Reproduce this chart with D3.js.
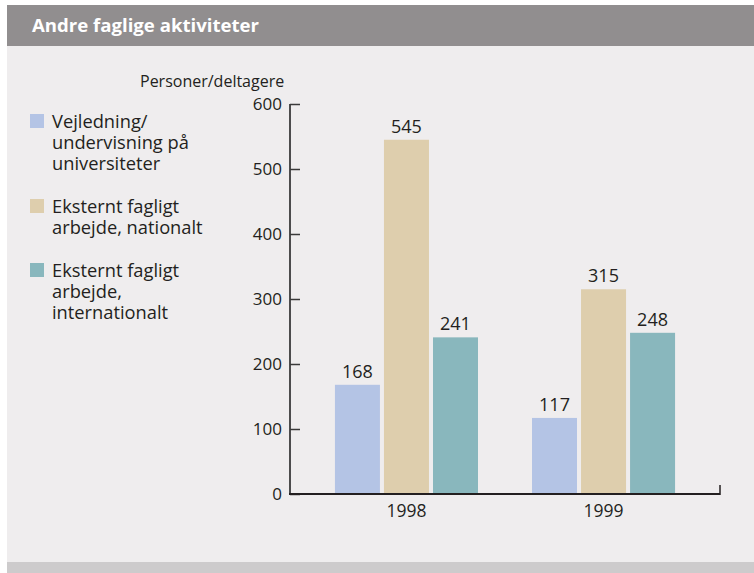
<!DOCTYPE html>
<html>
<head>
<meta charset="utf-8">
<script src="https://cdn.jsdelivr.net/npm/d3@7"></script>
<style>
  html, body { margin: 0; padding: 0; background: #ffffff; }
  svg { display: block; font-family: "Open Sans", "Noto Sans", sans-serif; }
</style>
</head>
<body>
<svg id="chart" width="754" height="573"></svg>
<script>
const title = "Andre faglige aktiviteter";
const yAxisTitle = "Personer/deltagere";
const years = ["1998", "1999"];
const seriesNames = [
  ["Vejledning/", "undervisning på", "universiteter"],
  ["Eksternt fagligt", "arbejde, nationalt"],
  ["Eksternt fagligt", "arbejde,", "internationalt"]
];
const seriesColors = ["#b4c4e5", "#decead", "#89b7bd"];
const values1998 = [168, 545, 241];
const values1999 = [117, 315, 248];
const yTicks = [0, 100, 200, 300, 400, 500, 600];

const values = [values1998, values1999];
const svg = d3.select("#chart");

// panel background
svg.append("rect").attr("x", 7).attr("y", 5).attr("width", 747).attr("height", 568).attr("fill", "#efedee");
svg.append("rect").attr("x", 7).attr("y", 5).attr("width", 747).attr("height", 41).attr("fill", "#918e8f");
svg.append("rect").attr("x", 7).attr("y", 562).attr("width", 747).attr("height", 11).attr("fill", "#cdcbcc");
svg.append("text").attr("x", 32).attr("y", 31.5).attr("fill", "#ffffff")
  .attr("font-size", 18.6).attr("font-weight", "bold").text(title);

const x0 = d3.scaleBand().domain(years).range([290, 720]).paddingInner(0.274).paddingOuter(0.228);
const x1 = d3.scaleBand().domain([0, 1, 2]).range([0, x0.bandwidth()]).paddingInner(0.082).paddingOuter(0);
const y = d3.scaleLinear().domain([0, 600]).range([494, 104]);

// bars
years.forEach((yr, i) => {
  const g = svg.append("g").attr("transform", `translate(${x0(yr)},0)`);
  values[i].forEach((v, s) => {
    g.append("rect").attr("x", x1(s)).attr("y", y(v)).attr("width", x1.bandwidth())
      .attr("height", y(0) - y(v)).attr("fill", seriesColors[s]);
    g.append("text").attr("x", x1(s) + x1.bandwidth() / 2).attr("y", y(v) - 7)
      .attr("text-anchor", "middle").attr("font-size", 18).attr("fill", "#231f20").text(v);
  });
});

// y axis
const yAxis = d3.axisRight(y).tickValues(yTicks).tickSize(10).tickFormat("");
const yg = svg.append("g").attr("transform", "translate(290,0)").call(yAxis);
yg.select(".domain").remove();
yg.selectAll(".tick line").attr("stroke", "#3a3a3a").attr("stroke-width", 1.5);
svg.append("line").attr("x1", 290).attr("x2", 290).attr("y1", y(600)).attr("y2", y(0) + 0.75)
  .attr("stroke", "#3a3a3a").attr("stroke-width", 1.8);
yTicks.forEach(t => {
  svg.append("text").attr("x", 282).attr("y", y(t) + 6).attr("text-anchor", "end")
    .attr("font-size", 17).attr("fill", "#231f20").text(t);
});

// x axis
svg.append("line").attr("x1", 289).attr("x2", 720).attr("y1", y(0)).attr("y2", y(0))
  .attr("stroke", "#231f20").attr("stroke-width", 1.8);
svg.append("line").attr("x1", 720).attr("x2", 720).attr("y1", y(0) - 9).attr("y2", y(0) + 0.9)
  .attr("stroke", "#231f20").attr("stroke-width", 1.5);
const xAxis = d3.axisBottom(x0).tickSize(0);
const xg = svg.append("g").attr("transform", `translate(0,${y(0)})`).call(xAxis);
xg.select(".domain").remove();
xg.selectAll("text").attr("font-size", 17.5).attr("fill", "#231f20")
  .attr("font-family", "'Open Sans', 'Noto Sans', sans-serif").attr("dy", "1.15em");

// y axis title
svg.append("text").attr("x", 140).attr("y", 87).attr("font-size", 16).attr("fill", "#231f20").text(yAxisTitle);

// legend
const legendTops = [114, 199, 263];
seriesNames.forEach((lines, s) => {
  svg.append("rect").attr("x", 30).attr("y", legendTops[s]).attr("width", 14).attr("height", 14)
    .attr("fill", seriesColors[s]);
  lines.forEach((l, k) => {
    svg.append("text").attr("x", 52).attr("y", legendTops[s] + 14 + k * 21)
      .attr("font-size", 18.3).attr("fill", "#231f20").text(l);
  });
});
</script>
</body>
</html>
